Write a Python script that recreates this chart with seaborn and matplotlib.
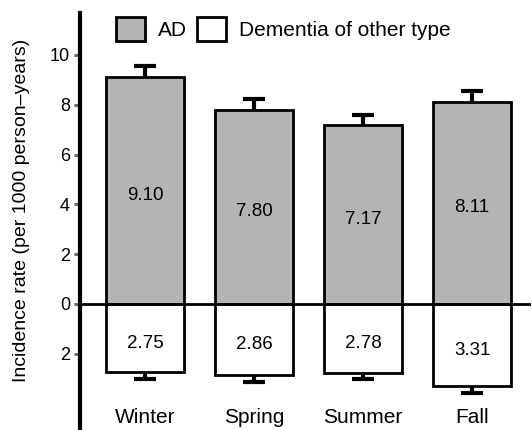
import numpy as np
import pandas as pd
import matplotlib
matplotlib.use('Agg')
import matplotlib.pyplot as plt
from matplotlib.patches import Patch
import seaborn as sns

# data
seasons = ['Winter', 'Spring', 'Summer', 'Fall']
ad_rate = [9.10, 7.80, 7.17, 8.11]
ad_err = [0.45, 0.43, 0.40, 0.45]
other_rate = [2.75, 2.86, 2.78, 3.31]
other_err = [0.25, 0.26, 0.25, 0.25]
yticks = [10, 8, 6, 4, 2, 0, -2]

sns.set_theme(style='white')
plt.rcParams['font.family'] = ['Liberation Sans', 'DejaVu Sans']
plt.rcParams['text.color'] = 'black'
plt.rcParams['axes.labelcolor'] = 'black'
plt.rcParams['xtick.color'] = 'black'
plt.rcParams['ytick.color'] = 'black'

df = pd.DataFrame({'season': seasons, 'ad': ad_rate,
                   'other': [-v for v in other_rate]})

fig = plt.figure(figsize=(5.32, 4.3), dpi=100)
ax = fig.add_axes([0.150, 0.005, 0.848, 0.965])

gray = '#b4b4b4'
sns.barplot(data=df, x='season', y='ad', color=gray, width=0.71,
            edgecolor='black', linewidth=2, saturation=1, ax=ax)
sns.barplot(data=df, x='season', y='other', color='white', width=0.71,
            edgecolor='black', linewidth=2, saturation=1, ax=ax)

xs = np.arange(len(seasons))
ad_top = np.array(ad_rate) + np.array(ad_err)
other_bot = -(np.array(other_rate) + np.array(other_err))
# one-sided error bars: stem + cap only at the far end
ax.vlines(xs, ad_rate, ad_top, color='black', lw=3, zorder=1)
ax.errorbar(xs, ad_top, xerr=0.1, fmt='none', ecolor='black', elinewidth=3)
ax.vlines(xs, [-v for v in other_rate], other_bot, color='black', lw=3, zorder=1)
ax.errorbar(xs, other_bot, xerr=0.1, fmt='none', ecolor='black', elinewidth=3)

for x, v in zip(xs, ad_rate):
    ax.text(x, v / 2 - 0.2, f'{v:.2f}', ha='center', va='center', fontsize=13.5)
for x, v in zip(xs, other_rate):
    ax.text(x, -(v / 2 + 0.2), f'{v:.2f}', ha='center', va='center', fontsize=13.5)

ax.axhline(0, color='black', lw=2, zorder=5)

ax.set_xlim(-0.6, 3.54)
ax.set_ylim(-4.98, 11.69)
ax.set_yticks(yticks)
ax.set_yticklabels([str(abs(t)) for t in yticks], fontsize=13)
ax.tick_params(axis='y', left=True, length=4, width=2, color='#666666', pad=3)
ax.tick_params(axis='x', bottom=False, labelsize=15, pad=-20)
ax.set_xlabel('')
ax.set_ylabel('Incidence rate (per 1000 person\u2013years)', fontsize=14)
ax.yaxis.set_label_coords(-0.111, 0.525)

sns.despine(ax=ax, bottom=True)
ax.spines['left'].set_linewidth(3)
ax.spines['left'].set_color('black')

handles = [Patch(facecolor=gray, edgecolor='black', linewidth=2, label='AD'),
           Patch(facecolor='white', edgecolor='black', linewidth=2,
                 label='Dementia of other type')]
ax.legend(handles=handles, loc='upper left', bbox_to_anchor=(0.062, 1.01),
          ncol=2, frameon=False, fontsize=15, handlelength=1.4,
          handleheight=1.4, handletextpad=0.6, columnspacing=0.5,
          borderaxespad=0)

fig.savefig('out.png', dpi=100)
